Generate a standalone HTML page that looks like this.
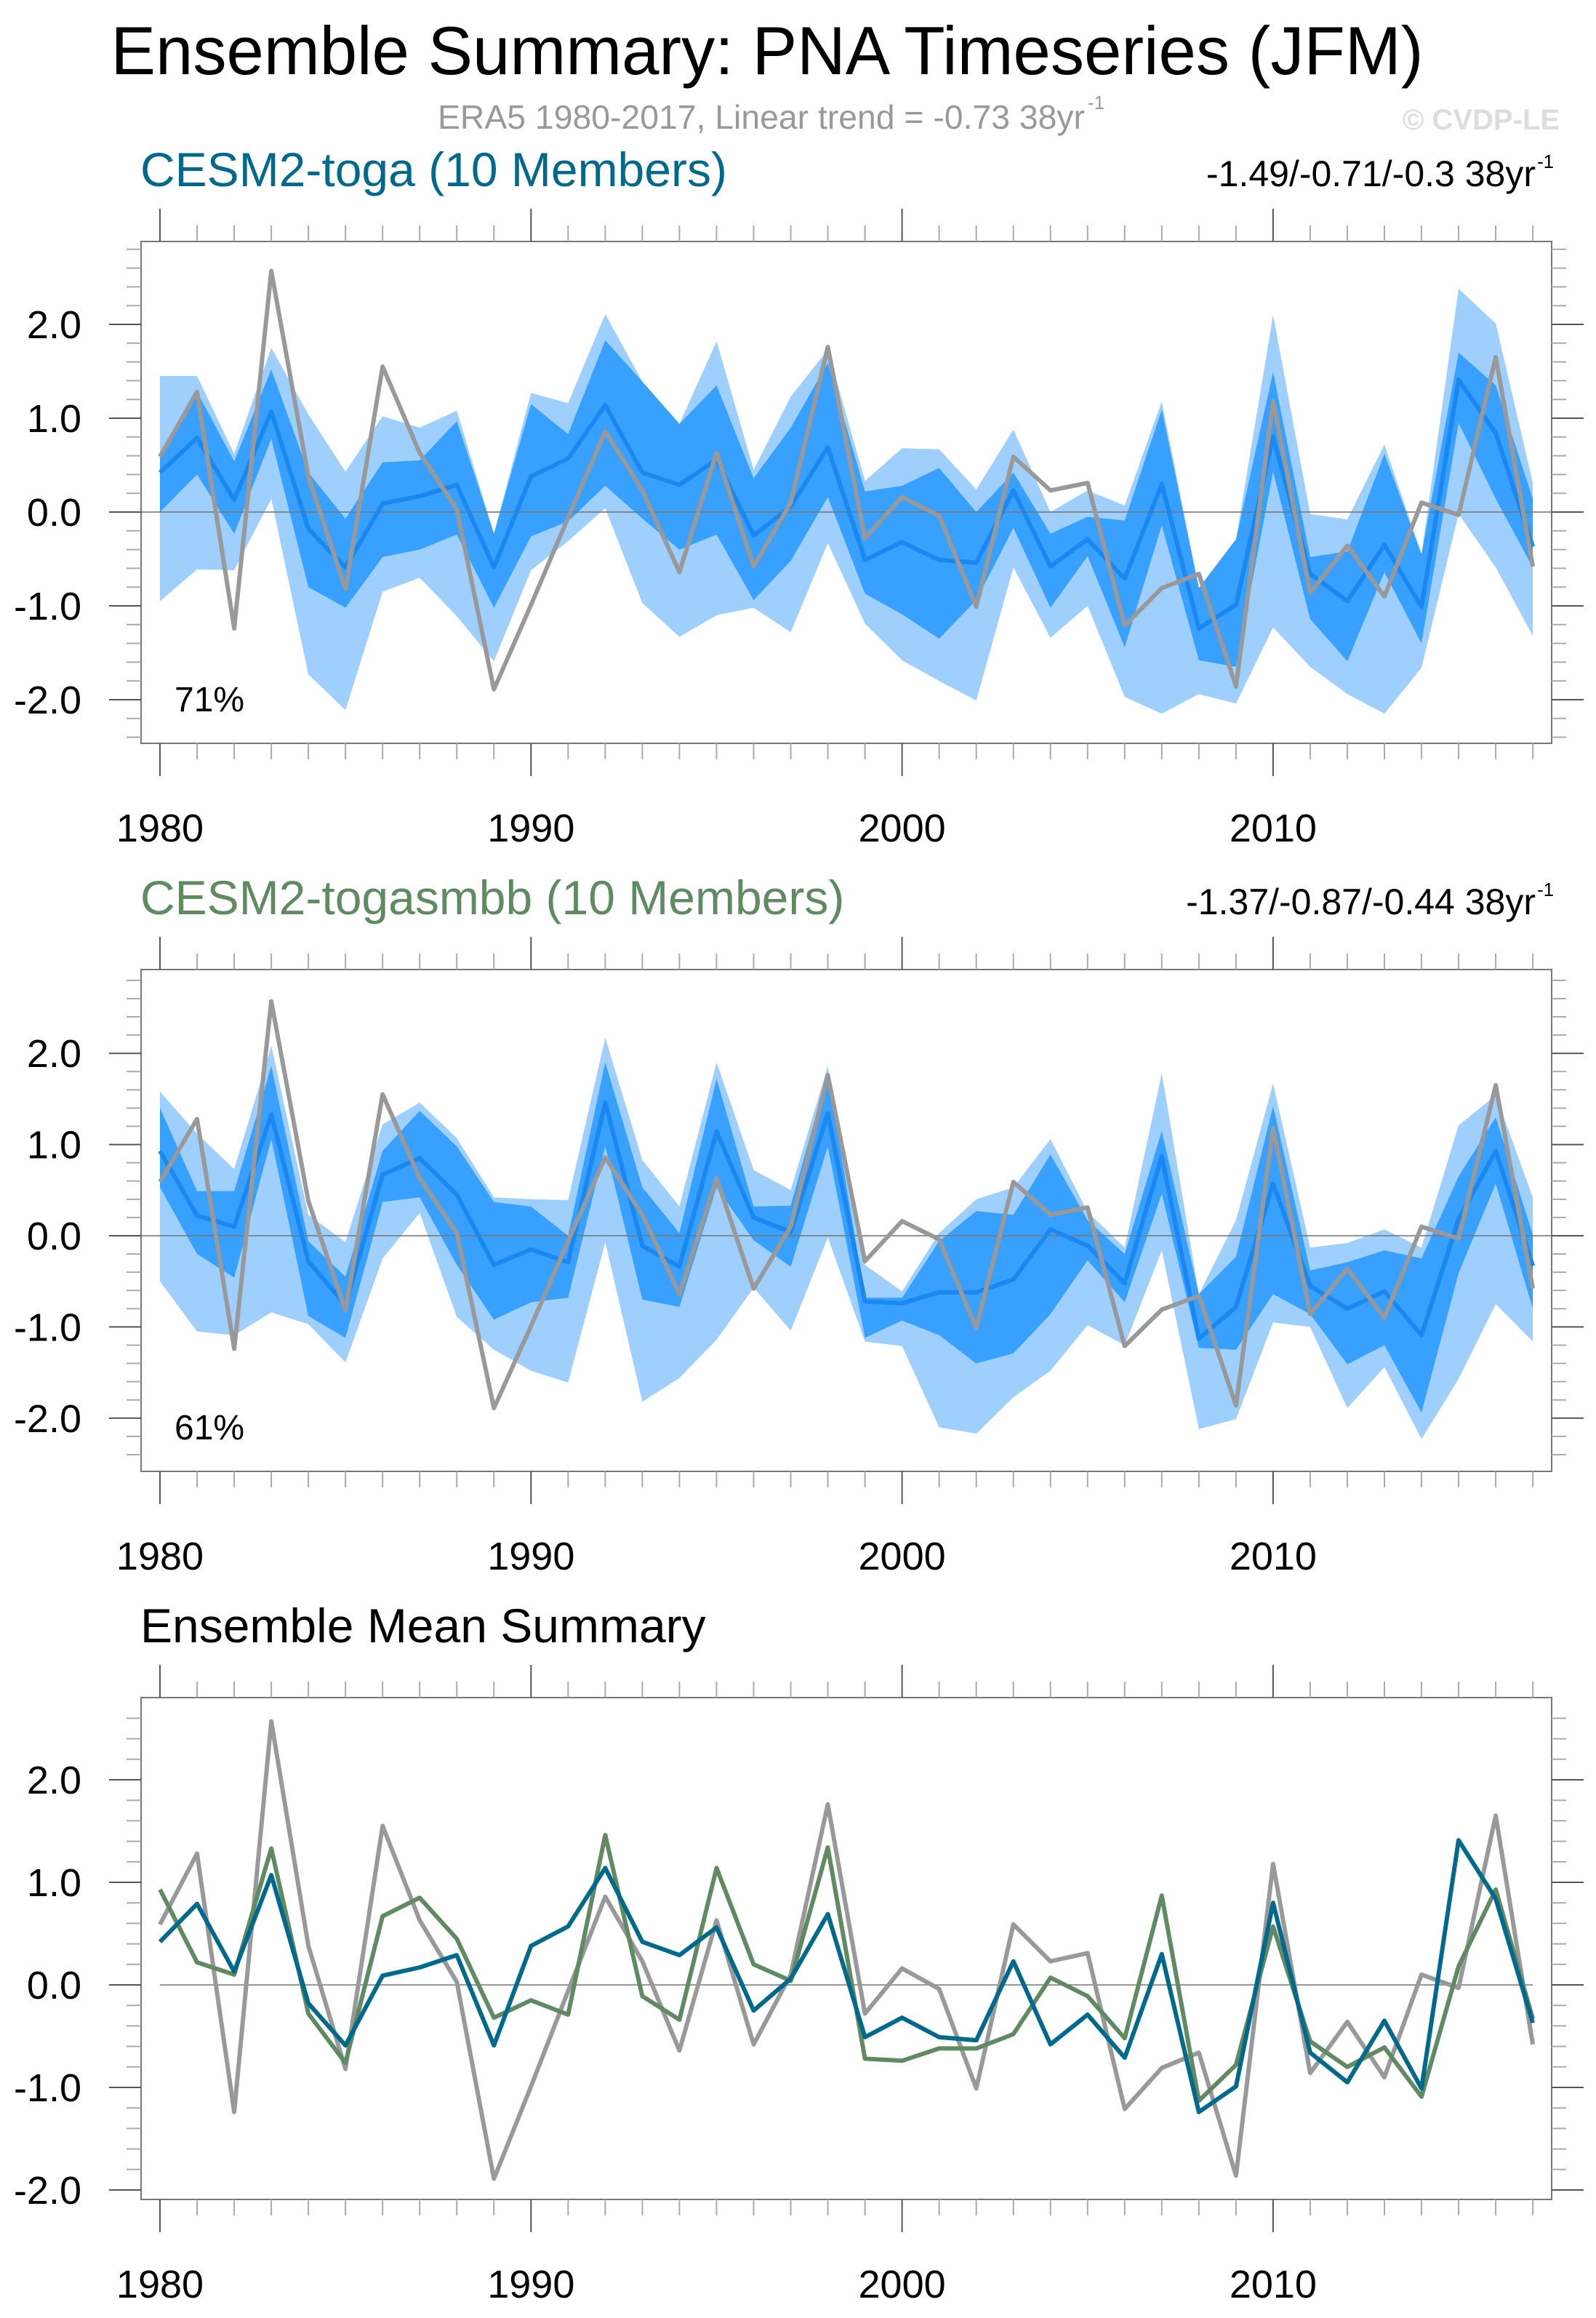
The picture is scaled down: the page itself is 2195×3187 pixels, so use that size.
<!DOCTYPE html>
<html><head><meta charset="utf-8"><style>
html,body{margin:0;padding:0;background:#fff;}
svg{display:block;font-family:"Liberation Sans",Arial,sans-serif;}
</style></head><body>
<svg id="chart" width="2195" height="3187" viewBox="0 0 2195 3187" xmlns="http://www.w3.org/2000/svg">
<text x="1055" y="102" font-size="94" text-anchor="middle" textLength="1805" lengthAdjust="spacingAndGlyphs">Ensemble Summary: PNA Timeseries (JFM)</text>
<text x="602" y="177" font-size="46" fill="#999" textLength="890" lengthAdjust="spacingAndGlyphs">ERA5 1980-2017, Linear trend = -0.73 38yr</text>
<text x="1496" y="150" font-size="26" fill="#999">-1</text>
<text x="2145" y="178" font-size="40" font-weight="bold" fill="#ddd" text-anchor="end">© CVDP-LE</text>
<g id="plots"></g>
</svg>
<script>
const years = [];
for (let y = 1980; y <= 2017; y++) years.push(y);
const obsERA5 = [0.59,1.28,-1.24,2.57,0.38,-0.82,1.55,0.63,0.03,-1.89,-0.99,-0.06,0.86,0.23,-0.64,0.63,-0.58,0.10,1.76,-0.28,0.16,-0.04,-1.01,0.59,0.23,0.31,-1.21,-0.81,-0.66,-1.86,1.18,-0.86,-0.36,-0.90,0.10,-0.03,1.65,-0.58];
const togaMean = [0.42,0.79,0.13,1.07,-0.18,-0.59,0.09,0.17,0.29,-0.59,0.38,0.57,1.14,0.42,0.29,0.56,-0.25,0.06,0.69,-0.51,-0.32,-0.51,-0.54,0.23,-0.58,-0.29,-0.71,0.30,-1.24,-0.99,0.80,-0.66,-0.95,-0.35,-1.01,1.41,0.84,-0.37];
const smbbMean = [0.93,0.22,0.10,1.33,-0.28,-0.76,0.67,0.85,0.45,-0.32,-0.15,-0.29,1.46,-0.11,-0.34,1.14,0.20,0.04,1.34,-0.72,-0.74,-0.62,-0.62,-0.48,0.07,-0.11,-0.52,0.87,-1.13,-0.78,0.57,-0.55,-0.80,-0.61,-1.09,0.18,0.93,-0.33];
const togaMax = [1.45,1.45,0.62,1.75,1.04,0.43,1.02,0.90,1.08,-0.23,1.27,1.16,2.11,1.39,0.94,1.82,0.45,1.23,1.73,0.33,0.68,0.67,0.24,0.88,0.00,0.23,0.07,1.18,-0.81,-0.29,2.10,-0.02,-0.08,0.72,-0.45,2.38,2.01,0.31];
const togaP90 = [0.60,1.28,0.54,1.52,0.42,-0.07,0.53,0.55,0.97,-0.23,1.15,0.83,1.83,1.39,0.94,1.35,0.36,0.90,1.59,0.22,0.28,0.47,0.00,0.42,-0.23,-0.05,-0.09,1.09,-0.81,-0.29,1.49,-0.48,-0.42,0.62,-0.45,1.70,1.35,0.14];
const togaP10 = [0.00,0.40,-0.23,0.78,-0.80,-1.02,-0.48,-0.40,-0.24,-1.02,-0.26,-0.10,0.28,-0.07,-0.40,-0.24,-0.94,-0.52,0.16,-0.87,-1.09,-1.35,-0.94,-0.17,-1.02,-0.47,-1.44,-0.14,-1.58,-1.65,0.43,-1.14,-1.59,-0.64,-1.40,0.95,0.14,-0.59];
const togaMin = [-0.95,-0.61,-0.62,0.14,-1.73,-2.11,-0.85,-0.70,-1.11,-1.59,-0.62,-0.31,0.04,-0.97,-1.33,-1.10,-1.02,-1.28,-0.33,-1.19,-1.58,-1.80,-2.01,-0.59,-1.34,-1.00,-1.97,-2.15,-1.94,-2.04,-1.23,-1.65,-1.94,-2.15,-1.66,-0.02,-0.59,-1.32];
const smbbMax = [1.58,1.12,0.73,2.08,0.23,-0.07,1.22,1.46,1.07,0.42,0.40,0.39,2.17,0.83,0.32,1.90,0.72,0.50,1.86,-0.32,-0.61,0.03,0.40,0.53,1.06,0.26,-0.13,1.78,-0.64,0.17,1.67,-0.13,-0.08,0.07,-0.13,1.21,1.54,0.42];
const smbbP90 = [1.40,0.49,0.49,1.86,-0.06,-0.45,0.93,1.37,0.98,0.37,0.32,0.00,1.90,0.53,0.03,1.72,0.32,0.33,1.78,-0.68,-0.68,-0.06,0.27,0.23,0.89,0.17,-0.20,1.15,-0.64,-0.23,1.42,-0.38,-0.29,-0.16,-0.25,0.65,1.30,0.01];
const smbbP10 = [0.53,-0.20,-0.46,1.06,-0.88,-1.12,0.37,0.42,-0.32,-0.92,-0.73,-0.68,0.98,-0.70,-0.78,0.53,-0.05,-0.34,0.98,-1.12,-0.93,-1.09,-1.40,-1.29,-0.86,-0.27,-0.73,0.46,-1.23,-1.25,-0.64,-0.86,-1.41,-1.20,-1.94,-0.41,0.57,-0.80];
const smbbMin = [-0.50,-1.05,-1.09,-0.84,-0.97,-1.39,-0.25,0.25,-0.89,-1.25,-1.48,-1.61,-0.07,-1.82,-1.56,-1.14,-0.57,-1.04,-0.02,-1.16,-1.21,-2.10,-2.17,-1.77,-1.48,-0.98,-1.20,-0.16,-2.12,-2.01,-0.95,-1.00,-1.89,-1.44,-2.23,-1.57,-0.75,-1.16];
const yTickValues = [2.0,1.0,0.0,-1.0,-2.0];
const yTickLabels = ["2.0","1.0","0.0","-1.0","-2.0"];
const xTickYears = [1980,1990,2000,2010];
const panel3Ticks = [2.0,1.0,0.0,-1.0,-2.0];

const NS = "http://www.w3.org/2000/svg";
const root = document.getElementById('plots');
const X0 = 220, XPY = 51.03, BL = 194, BR = 2134, BH = 690;
function xs(yr){ return X0 + (yr-1980)*XPY; }
function mk(tag, attrs, parent){
  const e = document.createElementNS(NS, tag);
  for (const k in attrs) e.setAttribute(k, attrs[k]);
  (parent||root).appendChild(e);
  return e;
}
function text(str, attrs, parent){ const t = mk('text', attrs, parent); t.textContent = str; return t; }

function drawAxes(g, top, yf, minV, maxV){
  const bot = top + BH;
  const box = mk('rect', {x:BL, y:top, width:BR-BL, height:BH, fill:'none', stroke:'#777', 'stroke-width':2}, g);
  
  
  for (let yr = 1980; yr <= 2017; yr++) {
    const x = xs(yr), major = (yr % 10 === 0);
    const L = major ? 45 : 22;
    mk('line', {x1:x, x2:x, y1:top, y2:top-L, stroke: major?'#555':'#aaa', 'stroke-width':2}, g);
    mk('line', {x1:x, x2:x, y1:bot, y2:bot+L, stroke: major?'#555':'#aaa', 'stroke-width':2}, g);
  }
  xTickYears.forEach(yr => {
    const t = text(String(yr), {x:xs(yr), y:bot+135, 'font-size':54, 'text-anchor':'middle'}, g);
    
    
  });
  for (let i = Math.round(minV*5); i <= Math.round(maxV*5); i++) {
    const v = i/5, y = yf(v);
    if (y < top || y > bot) continue;
    const major = (i % 5 === 0), L = major ? 44 : 20;
    mk('line', {x1:BL, x2:BL-L, y1:y, y2:y, stroke: major?'#555':'#aaa', 'stroke-width':2}, g);
    mk('line', {x1:BR, x2:BR+L, y1:y, y2:y, stroke: major?'#555':'#aaa', 'stroke-width':2}, g);
  }
  yTickValues.forEach((v,i) => {
    const t = text(yTickLabels[i], {x:112, y:yf(v)+19, 'font-size':54, 'text-anchor':'end'}, g);
    
    
  });
}
function linePts(vals, yf){ return vals.map((v,i) => xs(years[i]).toFixed(1)+','+yf(v).toFixed(1)).join(' '); }
function bandPts(hi, lo, yf){
  const a = hi.map((v,i)=>xs(years[i]).toFixed(1)+','+yf(v).toFixed(1));
  const b = lo.map((v,i)=>xs(years[i]).toFixed(1)+','+yf(v).toFixed(1)).reverse();
  return a.concat(b).join(' ');
}

function bandPanel(name, top, zeroOff, unit, mx, p90, p10, mn, mean, pct){
  const g = mk('g', {});
  
  
  const yf = v => top + zeroOff - v*unit;
  const lb = mk('polygon', {points: bandPts(mx, mn, yf), fill:'#9fd0fd'}, g);
  
  
  const db = mk('polygon', {points: bandPts(p90, p10, yf), fill:'#38a0ff'}, g);
  
  
  const z = mk('line', {x1:BL, x2:BR, y1:yf(0), y2:yf(0), stroke:'#777', 'stroke-width':2, 'stroke-opacity':0.8}, g);
  
  
  const ml = mk('polyline', {points: linePts(mean, yf), fill:'none', stroke:'#1a88f0', 'stroke-width':6, 'stroke-linejoin':'round'}, g);
  
  
  const ol = mk('polyline', {points: linePts(obsERA5, yf), fill:'none', stroke:'#999', 'stroke-width':6, 'stroke-linejoin':'round'}, g);
  
  
  const pt = text(pct, {x:240, y:top+646, 'font-size':48}, g);
  
  
  drawAxes(g, top, yf, -2.8, 2.8);
}

// panel titles
function panelTitle(name, str, color, y, trend){
  const t = text(str, {x:193, y:y, 'font-size':66, fill:color}, root);
  
  
  if (trend) {
    const tr = text(trend, {x:2112, y:y, 'font-size':50, 'text-anchor':'end'}, root);
    
    
    const ex = text('-1', {x:2114, y:y-25, 'font-size':26}, root);
    
    
  }
}
panelTitle('toga-panel-title', 'CESM2-toga (10 Members)', '#00698c', 256, '-1.49/-0.71/-0.3 38yr');
panelTitle('togasmbb-panel-title', 'CESM2-togasmbb (10 Members)', '#5f8a62', 1257, '-1.37/-0.87/-0.44 38yr');
panelTitle('ensemble-mean-title', 'Ensemble Mean Summary', '#000', 2258, null);

bandPanel('toga-panel', 332, 372, 129, togaMax, togaP90, togaP10, togaMin, togaMean, '71%');
bandPanel('togasmbb-panel', 1333, 366, 125.4, smbbMax, smbbP90, smbbP10, smbbMin, smbbMean, '61%');

// panel 3
(function(){
  const top = 2334;
  const g = mk('g', {});
  
  
  const yf = v => top + 395 - v*141;
  const z = mk('line', {x1:xs(1980), x2:xs(2017), y1:yf(0), y2:yf(0), stroke:'#999', 'stroke-width':2}, g);
  
  
  const ol = mk('polyline', {points: linePts(obsERA5, yf), fill:'none', stroke:'#999', 'stroke-width':6, 'stroke-linejoin':'round'}, g);
  
  
  const gl = mk('polyline', {points: linePts(smbbMean, yf), fill:'none', stroke:'#5f8a62', 'stroke-width':6, 'stroke-linejoin':'round'}, g);
  
  
  const bl = mk('polyline', {points: linePts(togaMean, yf), fill:'none', stroke:'#00698c', 'stroke-width':6, 'stroke-linejoin':'round'}, g);
  
  
  drawAxes(g, top, yf, -2.3, 2.6);
})();
</script>
</body></html>
